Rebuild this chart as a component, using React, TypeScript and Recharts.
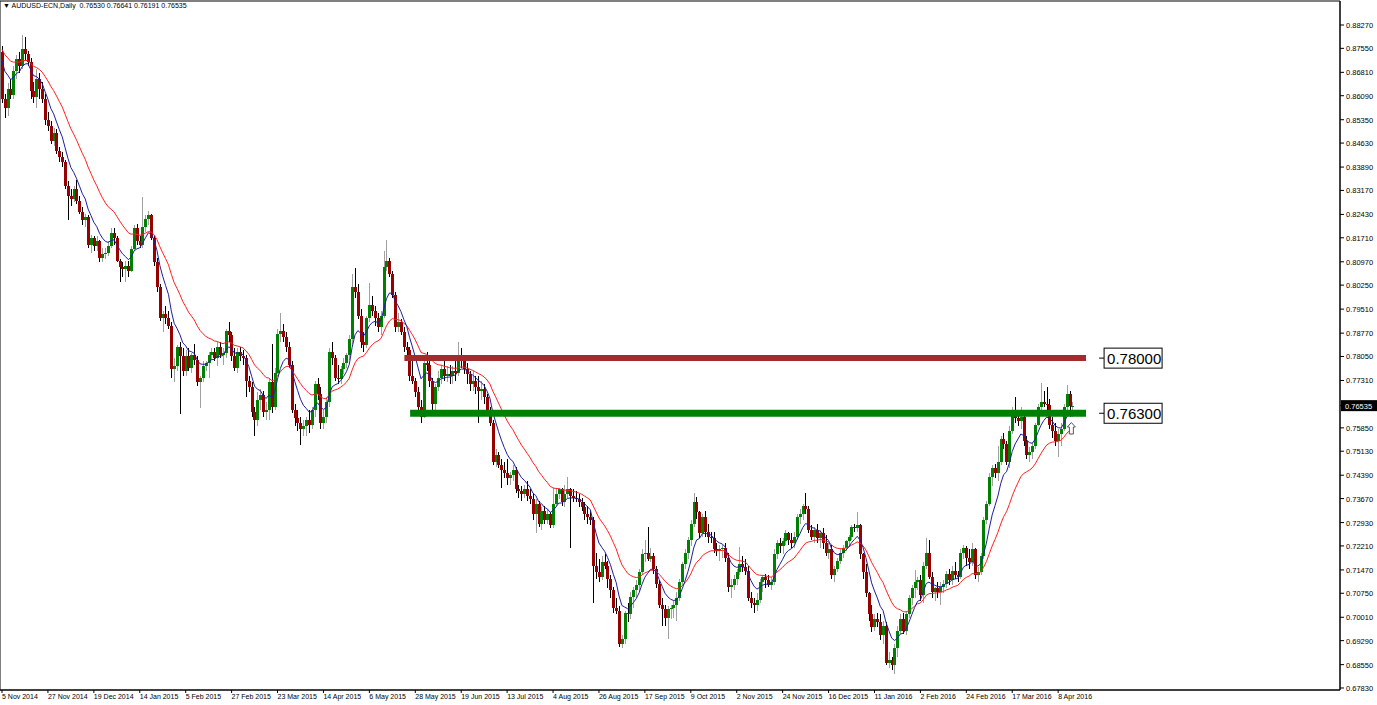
import React from "react";
import {
  ComposedChart,
  Bar,
  Line,
  XAxis,
  YAxis,
  ReferenceLine,
  ReferenceArea,
  ReferenceDot
} from "recharts";

type Ohlc = [number, number, number, number];

// AUDUSD daily bars, open / high / low / close in pips (price x 10000)
const nov2014: Ohlc[] = [
  [8745, 8762, 8585, 8598], [8598, 8615, 8540, 8570], [8570, 8648, 8545, 8630],
  [8630, 8662, 8598, 8612], [8612, 8700, 8600, 8685], [8685, 8735, 8660, 8722],
  [8722, 8745, 8680, 8700], [8700, 8796, 8690, 8752], [8752, 8790, 8715, 8738],
  [8738, 8748, 8700, 8712], [8712, 8725, 8600, 8625], [8625, 8650, 8585, 8605],
  [8605, 8690, 8570, 8660], [8660, 8680, 8600, 8630], [8630, 8650, 8585, 8600],
  [8600, 8615, 8520, 8535], [8535, 8560, 8500, 8515], [8515, 8530, 8460, 8470]
];
const dec2014: Ohlc[] = [
  [8470, 8510, 8455, 8495], [8495, 8505, 8430, 8440], [8440, 8450, 8405, 8420],
  [8420, 8435, 8390, 8405], [8405, 8410, 8320, 8330], [8330, 8345, 8225, 8300],
  [8300, 8320, 8270, 8290], [8290, 8330, 8280, 8320], [8320, 8350, 8275, 8285],
  [8285, 8300, 8245, 8250], [8250, 8265, 8210, 8225], [8225, 8245, 8205, 8235],
  [8235, 8240, 8140, 8150], [8150, 8180, 8125, 8170], [8170, 8175, 8130, 8145],
  [8145, 8175, 8130, 8160], [8160, 8165, 8095, 8110], [8110, 8140, 8095, 8120],
  [8120, 8140, 8105, 8125], [8125, 8160, 8115, 8145], [8145, 8200, 8140, 8185],
  [8185, 8200, 8150, 8170]
];
const jan2015: Ohlc[] = [
  [8170, 8175, 8095, 8100], [8100, 8105, 8035, 8080], [8080, 8095, 8050, 8075],
  [8075, 8100, 8035, 8085], [8085, 8100, 8050, 8070], [8070, 8145, 8065, 8135],
  [8135, 8210, 8130, 8200], [8200, 8215, 8150, 8160], [8160, 8175, 8140, 8150],
  [8150, 8297, 8140, 8205], [8205, 8240, 8190, 8230], [8230, 8255, 8210, 8240],
  [8240, 8245, 8165, 8170], [8170, 8180, 8085, 8095], [8095, 8110, 8005, 8020],
  [8020, 8030, 7915, 7925], [7925, 7945, 7880, 7935], [7935, 7960, 7905, 7925],
  [7925, 7945, 7890, 7900], [7900, 7910, 7740, 7765], [7765, 7800, 7725, 7775]
];
const feb2015: Ohlc[] = [
  [7775, 7840, 7760, 7835], [7835, 7850, 7628, 7805], [7805, 7830, 7745, 7760],
  [7760, 7825, 7745, 7805], [7805, 7830, 7760, 7770], [7770, 7815, 7755, 7810],
  [7810, 7845, 7780, 7795], [7795, 7805, 7715, 7725], [7725, 7745, 7645, 7740],
  [7740, 7790, 7725, 7775], [7775, 7790, 7760, 7785], [7785, 7820, 7740, 7810],
  [7810, 7830, 7795, 7820], [7820, 7830, 7790, 7800], [7800, 7850, 7775, 7835],
  [7835, 7850, 7800, 7810], [7810, 7830, 7780, 7815], [7815, 7890, 7800, 7885],
  [7885, 7912, 7850, 7870], [7870, 7880, 7790, 7805]
];
const mar2015: Ohlc[] = [
  [7805, 7830, 7760, 7770], [7770, 7830, 7755, 7820], [7820, 7835, 7790, 7805],
  [7805, 7825, 7780, 7800], [7800, 7810, 7680, 7730], [7730, 7745, 7695, 7710],
  [7710, 7725, 7620, 7635], [7635, 7650, 7561, 7610], [7610, 7695, 7590, 7670],
  [7670, 7705, 7640, 7685], [7685, 7700, 7620, 7635], [7635, 7665, 7610, 7640],
  [7640, 7740, 7610, 7725], [7725, 7845, 7630, 7650], [7650, 7770, 7640, 7755],
  [7755, 7890, 7750, 7875], [7875, 7938, 7850, 7885], [7885, 7905, 7850, 7865],
  [7865, 7880, 7820, 7835], [7835, 7850, 7770, 7780], [7780, 7790, 7630, 7640],
  [7640, 7660, 7590, 7615]
];
const apr2015: Ohlc[] = [
  [7615, 7640, 7575, 7600], [7600, 7620, 7533, 7580], [7580, 7610, 7560, 7590],
  [7590, 7620, 7560, 7610], [7610, 7640, 7570, 7595], [7595, 7650, 7580, 7640],
  [7640, 7730, 7620, 7720], [7720, 7740, 7670, 7690], [7690, 7710, 7580, 7600],
  [7600, 7640, 7580, 7620], [7620, 7680, 7600, 7665], [7665, 7830, 7650, 7820],
  [7820, 7850, 7780, 7800], [7800, 7810, 7730, 7740], [7740, 7780, 7720, 7735],
  [7735, 7775, 7720, 7765], [7765, 7800, 7750, 7785], [7785, 7815, 7770, 7810],
  [7810, 7870, 7795, 7860], [7860, 8060, 7845, 8020], [8020, 8078, 7985, 8005],
  [8005, 8030, 7920, 7930]
];
const may2015: Ohlc[] = [
  [7930, 7950, 7830, 7850], [7850, 7880, 7820, 7840], [7840, 7930, 7830, 7925],
  [7925, 8032, 7910, 7965], [7965, 7990, 7930, 7945], [7945, 7960, 7900, 7925],
  [7925, 7940, 7880, 7895], [7895, 7945, 7870, 7930], [7930, 8130, 7925, 8080],
  [8080, 8163, 8070, 8100], [8100, 8110, 8050, 8060], [8060, 8070, 7985, 7995],
  [7995, 8005, 7880, 7895], [7895, 7940, 7880, 7910], [7910, 7920, 7870, 7880],
  [7880, 7895, 7820, 7835], [7835, 7850, 7810, 7825], [7825, 7835, 7730, 7745],
  [7745, 7790, 7720, 7730], [7730, 7740, 7680, 7695], [7695, 7710, 7640, 7650]
];
const jun2015: Ohlc[] = [
  [7650, 7670, 7600, 7620], [7620, 7800, 7615, 7785], [7785, 7818, 7760, 7780],
  [7780, 7790, 7710, 7730], [7730, 7740, 7630, 7660], [7660, 7720, 7640, 7710],
  [7710, 7760, 7700, 7740], [7740, 7780, 7720, 7765], [7765, 7790, 7730, 7745],
  [7745, 7775, 7725, 7750], [7750, 7780, 7720, 7745], [7745, 7775, 7720, 7760],
  [7760, 7790, 7730, 7755], [7755, 7849, 7745, 7800], [7800, 7830, 7770, 7790],
  [7790, 7800, 7750, 7765], [7765, 7785, 7720, 7750], [7750, 7760, 7700, 7720],
  [7720, 7760, 7700, 7730], [7730, 7745, 7690, 7710], [7710, 7745, 7600, 7700],
  [7700, 7730, 7670, 7705]
];
const jul2015: Ohlc[] = [
  [7705, 7720, 7660, 7680], [7680, 7690, 7630, 7640], [7640, 7650, 7590, 7600],
  [7600, 7610, 7470, 7480], [7480, 7520, 7465, 7500], [7500, 7510, 7460, 7470],
  [7470, 7490, 7400, 7455], [7455, 7480, 7430, 7445], [7445, 7490, 7410, 7430],
  [7430, 7450, 7410, 7440], [7440, 7470, 7420, 7455], [7455, 7465, 7385, 7395],
  [7395, 7410, 7370, 7390], [7390, 7405, 7360, 7380], [7380, 7410, 7370, 7395],
  [7395, 7420, 7360, 7375], [7375, 7395, 7350, 7365], [7365, 7380, 7300, 7320],
  [7320, 7365, 7260, 7350], [7350, 7360, 7280, 7290], [7290, 7340, 7270, 7330],
  [7330, 7345, 7290, 7300], [7300, 7335, 7290, 7320]
];
const aug2015: Ohlc[] = [
  [7320, 7325, 7275, 7285], [7285, 7400, 7275, 7350], [7350, 7395, 7340, 7380],
  [7380, 7400, 7365, 7395], [7395, 7400, 7345, 7355], [7355, 7410, 7340, 7380],
  [7380, 7435, 7370, 7395], [7395, 7400, 7215, 7375], [7375, 7395, 7355, 7370],
  [7370, 7390, 7355, 7365], [7365, 7380, 7340, 7355], [7355, 7370, 7330, 7340],
  [7340, 7355, 7300, 7320], [7320, 7345, 7290, 7310], [7310, 7330, 7285, 7300],
  [7300, 7310, 7044, 7160], [7160, 7200, 7120, 7140], [7140, 7180, 7110, 7125],
  [7125, 7190, 7115, 7170], [7170, 7195, 7150, 7160], [7160, 7175, 7090, 7120]
];
const sep2015: Ohlc[] = [
  [7120, 7130, 7060, 7085], [7085, 7095, 7015, 7030], [7030, 7060, 7010, 7020],
  [7020, 7035, 6910, 6920], [6920, 6945, 6906, 6935], [6935, 7020, 6920, 7015],
  [7015, 7045, 6985, 7010], [7010, 7080, 6995, 7065], [7065, 7095, 7030, 7085],
  [7085, 7115, 7060, 7100], [7100, 7150, 7080, 7140], [7140, 7210, 7130, 7195],
  [7195, 7240, 7170, 7200], [7200, 7279, 7175, 7180], [7180, 7215, 7170, 7190],
  [7190, 7200, 7135, 7150], [7150, 7160, 7090, 7105], [7105, 7115, 7030, 7040],
  [7040, 7060, 6975, 7025], [7025, 7040, 6975, 7000], [7000, 7035, 6935, 7025],
  [7025, 7040, 6995, 7030]
];
const oct2015: Ohlc[] = [
  [7030, 7055, 7000, 7040], [7040, 7080, 6990, 7060], [7060, 7120, 7050, 7110],
  [7110, 7170, 7100, 7165], [7165, 7210, 7150, 7200], [7200, 7250, 7180, 7240],
  [7240, 7300, 7220, 7290], [7290, 7384, 7280, 7355], [7355, 7372, 7305, 7325],
  [7325, 7330, 7245, 7260], [7260, 7320, 7250, 7310], [7310, 7330, 7250, 7265],
  [7265, 7290, 7230, 7250], [7250, 7265, 7230, 7245], [7245, 7265, 7200, 7210],
  [7210, 7230, 7190, 7205], [7205, 7225, 7175, 7210], [7210, 7225, 7185, 7215],
  [7215, 7230, 7170, 7185], [7185, 7200, 7080, 7095], [7095, 7120, 7060, 7100],
  [7100, 7130, 7085, 7120]
];
const nov2015: Ohlc[] = [
  [7120, 7150, 7100, 7140], [7140, 7217, 7130, 7165], [7165, 7190, 7140, 7155],
  [7155, 7180, 7130, 7145], [7145, 7160, 7050, 7060], [7060, 7080, 7030, 7045],
  [7045, 7060, 7015, 7040], [7040, 7075, 7020, 7055], [7055, 7120, 7045, 7110],
  [7110, 7130, 7080, 7125], [7125, 7135, 7090, 7115], [7115, 7130, 7095, 7100],
  [7100, 7125, 7085, 7110], [7110, 7210, 7100, 7195], [7195, 7240, 7180, 7230],
  [7230, 7245, 7200, 7220], [7220, 7245, 7195, 7235], [7235, 7270, 7225, 7260],
  [7260, 7265, 7225, 7240], [7240, 7260, 7215, 7230], [7230, 7265, 7215, 7250]
];
const dec2015: Ohlc[] = [
  [7250, 7320, 7240, 7310], [7310, 7335, 7290, 7320], [7320, 7350, 7300, 7345],
  [7345, 7384, 7320, 7335], [7335, 7345, 7260, 7270], [7270, 7285, 7240, 7250],
  [7250, 7280, 7230, 7270], [7270, 7290, 7230, 7245], [7245, 7270, 7215, 7260],
  [7260, 7275, 7210, 7230], [7230, 7255, 7190, 7200], [7200, 7230, 7180, 7210],
  [7210, 7225, 7120, 7130], [7130, 7160, 7110, 7150], [7150, 7185, 7140, 7175],
  [7175, 7210, 7165, 7200], [7200, 7225, 7185, 7215], [7215, 7240, 7205, 7235],
  [7235, 7255, 7220, 7250], [7250, 7285, 7240, 7280], [7280, 7290, 7265, 7275],
  [7275, 7326, 7265, 7285]
];
const jan2016: Ohlc[] = [
  [7285, 7290, 7180, 7195], [7195, 7200, 7120, 7140], [7140, 7165, 7065, 7075],
  [7075, 7080, 6990, 7010], [7010, 7040, 6955, 6970], [6970, 7010, 6960, 6995],
  [6995, 7015, 6970, 6985], [6985, 7010, 6930, 6945], [6945, 6990, 6920, 6975],
  [6975, 6985, 6855, 6860], [6860, 6895, 6845, 6870], [6870, 6880, 6840, 6855],
  [6855, 6920, 6827, 6905], [6905, 6975, 6880, 6960], [6960, 7010, 6950, 6995],
  [6995, 7015, 6950, 6960], [6960, 7020, 6945, 7010], [7010, 7070, 7000, 7060],
  [7060, 7100, 7040, 7090], [7090, 7147, 7060, 7110]
];
const feb2016: Ohlc[] = [
  [7110, 7125, 7085, 7115], [7115, 7130, 7050, 7070], [7070, 7170, 7045, 7160],
  [7160, 7245, 7150, 7200], [7200, 7240, 7120, 7125], [7125, 7140, 7060, 7080],
  [7080, 7095, 7050, 7090], [7090, 7110, 7060, 7080], [7080, 7110, 7040, 7095],
  [7095, 7115, 7075, 7105], [7105, 7145, 7090, 7135], [7135, 7150, 7100, 7115],
  [7115, 7160, 7100, 7145], [7145, 7170, 7120, 7130], [7130, 7145, 7110, 7125],
  [7125, 7210, 7120, 7200], [7200, 7225, 7180, 7215], [7215, 7220, 7160, 7185],
  [7185, 7210, 7150, 7170], [7170, 7230, 7160, 7210], [7210, 7215, 7120, 7130]
];
const mar2016: Ohlc[] = [
  [7130, 7155, 7110, 7140], [7140, 7200, 7130, 7190], [7190, 7310, 7180, 7300],
  [7300, 7360, 7290, 7350], [7350, 7445, 7345, 7435], [7435, 7470, 7405, 7460],
  [7460, 7475, 7430, 7445], [7445, 7530, 7420, 7480], [7480, 7560, 7470, 7550],
  [7550, 7570, 7520, 7535], [7535, 7545, 7470, 7480], [7480, 7590, 7460, 7575],
  [7575, 7650, 7565, 7635], [7635, 7680, 7600, 7615], [7615, 7640, 7590, 7605],
  [7605, 7650, 7580, 7620], [7620, 7625, 7530, 7545], [7545, 7560, 7490, 7500],
  [7500, 7525, 7480, 7510], [7510, 7540, 7490, 7530], [7530, 7600, 7520, 7595],
  [7595, 7660, 7590, 7650], [7650, 7723, 7630, 7665]
];
const apr2016: Ohlc[] = [
  [7665, 7700, 7650, 7660], [7660, 7710, 7640, 7655], [7655, 7675, 7580, 7595],
  [7595, 7620, 7555, 7575], [7575, 7600, 7530, 7545], [7545, 7580, 7495, 7565],
  [7565, 7600, 7530, 7580], [7580, 7660, 7575, 7650], [7650, 7717, 7630, 7690],
  [7690, 7700, 7620, 7653], [7653, 7664.1, 7619.1, 7653.5]
];

// closes before the first visible bar, only used to start the averages
const priorCloses = [8770, 8790, 8810, 8770, 8790, 8780, 8830, 8820, 8770, 8800, 8730, 8690, 8720];

const xTickLabels = [
  "5 Nov 2014", "27 Nov 2014", "19 Dec 2014", "14 Jan 2015", "5 Feb 2015", "27 Feb 2015",
  "23 Mar 2015", "14 Apr 2015", "6 May 2015", "28 May 2015", "19 Jun 2015", "13 Jul 2015",
  "4 Aug 2015", "26 Aug 2015", "17 Sep 2015", "9 Oct 2015", "2 Nov 2015", "24 Nov 2015",
  "16 Dec 2015", "11 Jan 2016", "2 Feb 2016", "24 Feb 2016", "17 Mar 2016", "8 Apr 2016"
];
const BARS_PER_LABEL = 16;

const yTickValues = [
  8827, 8755, 8681, 8609, 8535, 8463, 8389, 8317, 8243, 8171, 8097, 8025, 7951, 7877,
  7805, 7731, 7653.5, 7585, 7513, 7439, 7367, 7293, 7221, 7147, 7075, 7001, 6929, 6855, 6783
];

const RESISTANCE = 7800;
const SUPPORT = 7630;
const LAST_PRICE = 7653.5;

const candles: Ohlc[] = [
  ...nov2014, ...dec2014, ...jan2015, ...feb2015, ...mar2015, ...apr2015, ...may2015,
  ...jun2015, ...jul2015, ...aug2015, ...sep2015, ...oct2015, ...nov2015, ...dec2015,
  ...jan2016, ...feb2016, ...mar2016, ...apr2016
];

function ema(values: number[], period: number) {
  const k = 2 / (period + 1);
  const out: number[] = [];
  let prev = values[0];
  for (const v of values) {
    prev = prev + k * (v - prev);
    out.push(prev);
  }
  return out;
}

const allCloses = [...priorCloses, ...candles.map((c) => c[3])];
const fastMa = ema(allCloses, 8).slice(priorCloses.length);
const slowMa = ema(allCloses, 21).slice(priorCloses.length);

const rows = candles.map(([o, h, l, c], i) => ({
  i,
  o,
  h,
  l,
  c,
  range: [l, h],
  fast: fastMa[i],
  slow: slowMa[i]
}));

const xTicks = xTickLabels.map((_, k) => k * BARS_PER_LABEL);
const FONT = "'Liberation Sans', Arial, sans-serif";

function Candle(props: any) {
  const { x, y, width, height, payload } = props;
  if (!payload || height == null) return null;
  const { o, h, l, c } = payload;
  const up = c >= o;
  const px = Math.round(x + width / 2);
  const span = h - l || 1;
  const py = (p: number) => y + ((h - p) / span) * height;
  const top = Math.round(py(Math.max(o, c)));
  const bot = Math.round(py(Math.min(o, c)));
  return (
    <g>
      <line
        x1={px + 0.5}
        x2={px + 0.5}
        y1={Math.round(y)}
        y2={Math.round(y + height)}
        stroke={up ? "#a0a0a0" : "#000000"}
        strokeWidth={1}
      />
      <rect
        x={px - 1}
        y={top}
        width={3}
        height={Math.max(bot - top, 1)}
        fill={up ? "#008000" : "#990000"}
      />
    </g>
  );
}

function YTick(props: any) {
  const { x, y, payload } = props;
  const v = payload.value;
  const text = (v / 10000).toFixed(5);
  if (v === LAST_PRICE) {
    return (
      <g>
        <rect x={1341} y={y - 5.5} width={36} height={11} fill="#000" />
        <text x={1345} y={y + 3} fill="#fff" fontSize={7.5} fontFamily={FONT}>
          {text}
        </text>
      </g>
    );
  }
  return (
    <text x={x} y={y + 3} fill="#000" fontSize={7.5} fontFamily={FONT} textAnchor="start">
      {text}
    </text>
  );
}

function XTick(props: any) {
  const { x, y, payload } = props;
  const label = xTickLabels[Math.round(payload.value / BARS_PER_LABEL)];
  return (
    <text x={x} y={y + 6} fill="#000" fontSize={7} fontFamily={FONT} textAnchor="start">
      {label}
    </text>
  );
}

function PriceTag({ cx, cy, text }: { cx: number; cy: number; text: string }) {
  return (
    <g>
      <line x1={cx - 5} x2={cx} y1={cy} y2={cy} stroke="#000" />
      <rect x={cx} y={cy - 10} width={58} height={20} fill="#fff" stroke="#000" />
      <text x={cx + 3} y={cy + 5.5} fill="#000" fontSize={15} fontFamily={FONT}>
        {text}
      </text>
    </g>
  );
}

function UpArrow({ cx, cy }: { cx: number; cy: number }) {
  const pts = [
    [cx, cy - 6],
    [cx + 4, cy - 1.5],
    [cx + 2, cy - 1.5],
    [cx + 2, cy + 5.5],
    [cx - 2, cy + 5.5],
    [cx - 2, cy - 1.5],
    [cx - 4, cy - 1.5]
  ]
    .map((p) => p.join(","))
    .join(" ");
  return <polygon points={pts} fill="#fff" stroke="#555" strokeWidth={1} />;
}

const X_MIN = -0.7;
const X_MAX = 466.2;
const Y_MIN = 6776.8;
const Y_MAX = 8901;

export default function App() {
  return (
    <div style={{ position: "absolute", left: 0, top: 0, width: 1377, height: 705, background: "#fff" }}>
      <ComposedChart
        width={1377}
        height={705}
        data={rows}
        margin={{ top: 1, right: 0, bottom: 0, left: 0 }}
      >
        <XAxis
          type="number"
          dataKey="i"
          domain={[X_MIN, X_MAX]}
          allowDataOverflow
          ticks={xTicks}
          interval={0}
          height={15}
          tickSize={3}
          tickMargin={0}
          tick={<XTick />}
          axisLine={{ stroke: "#000" }}
          tickLine={{ stroke: "#000" }}
        />
        <YAxis
          orientation="right"
          type="number"
          domain={[Y_MIN, Y_MAX]}
          allowDataOverflow
          ticks={yTickValues}
          interval={0}
          width={37}
          tickSize={4}
          tickMargin={2}
          tick={<YTick />}
          axisLine={{ stroke: "#000" }}
          tickLine={{ stroke: "#000" }}
        />
        <ReferenceArea
          x1={X_MIN}
          x2={X_MAX}
          y1={Y_MIN}
          y2={Y_MAX}
          fill="none"
          stroke="#000"
          ifOverflow="visible"
        />
        <Bar
          dataKey="range"
          barSize={3}
          isAnimationActive={false}
          shape={(p: any) => <Candle {...p} />}
        />
        <Line
          type="linear"
          dataKey="slow"
          stroke="#ff2020"
          strokeWidth={1}
          dot={false}
          isAnimationActive={false}
        />
        <Line
          type="linear"
          dataKey="fast"
          stroke="#1e1ea0"
          strokeWidth={1}
          dot={false}
          isAnimationActive={false}
        />
        <ReferenceLine
          segment={[{ x: 140.2, y: RESISTANCE }, { x: 377.7, y: RESISTANCE }]}
          stroke="#a52a2a"
          strokeWidth={6}
          ifOverflow="visible"
        />
        <ReferenceLine
          segment={[{ x: 142.2, y: SUPPORT }, { x: 377.7, y: SUPPORT }]}
          stroke="#008000"
          strokeWidth={7}
          ifOverflow="visible"
        />
        <ReferenceDot
          x={384}
          y={RESISTANCE}
          r={0}
          ifOverflow="visible"
          shape={(p: any) => <PriceTag cx={p.cx} cy={p.cy} text="0.78000" />}
        />
        <ReferenceDot
          x={384}
          y={SUPPORT}
          r={0}
          ifOverflow="visible"
          shape={(p: any) => <PriceTag cx={p.cx} cy={p.cy} text="0.76300" />}
        />
        <ReferenceDot
          x={372.6}
          y={7583}
          r={0}
          ifOverflow="visible"
          shape={(p: any) => <UpArrow cx={p.cx} cy={p.cy} />}
        />
      </ComposedChart>
      <div
        style={{
          position: "absolute",
          left: 3,
          top: 1,
          fontSize: 7,
          lineHeight: "9px",
          fontFamily: FONT,
          color: "#000",
          whiteSpace: "pre"
        }}
      >
        {"\u25BC AUDUSD-ECN,Daily  0.76530 0.76641 0.76191 0.76535"}
      </div>
    </div>
  );
}
